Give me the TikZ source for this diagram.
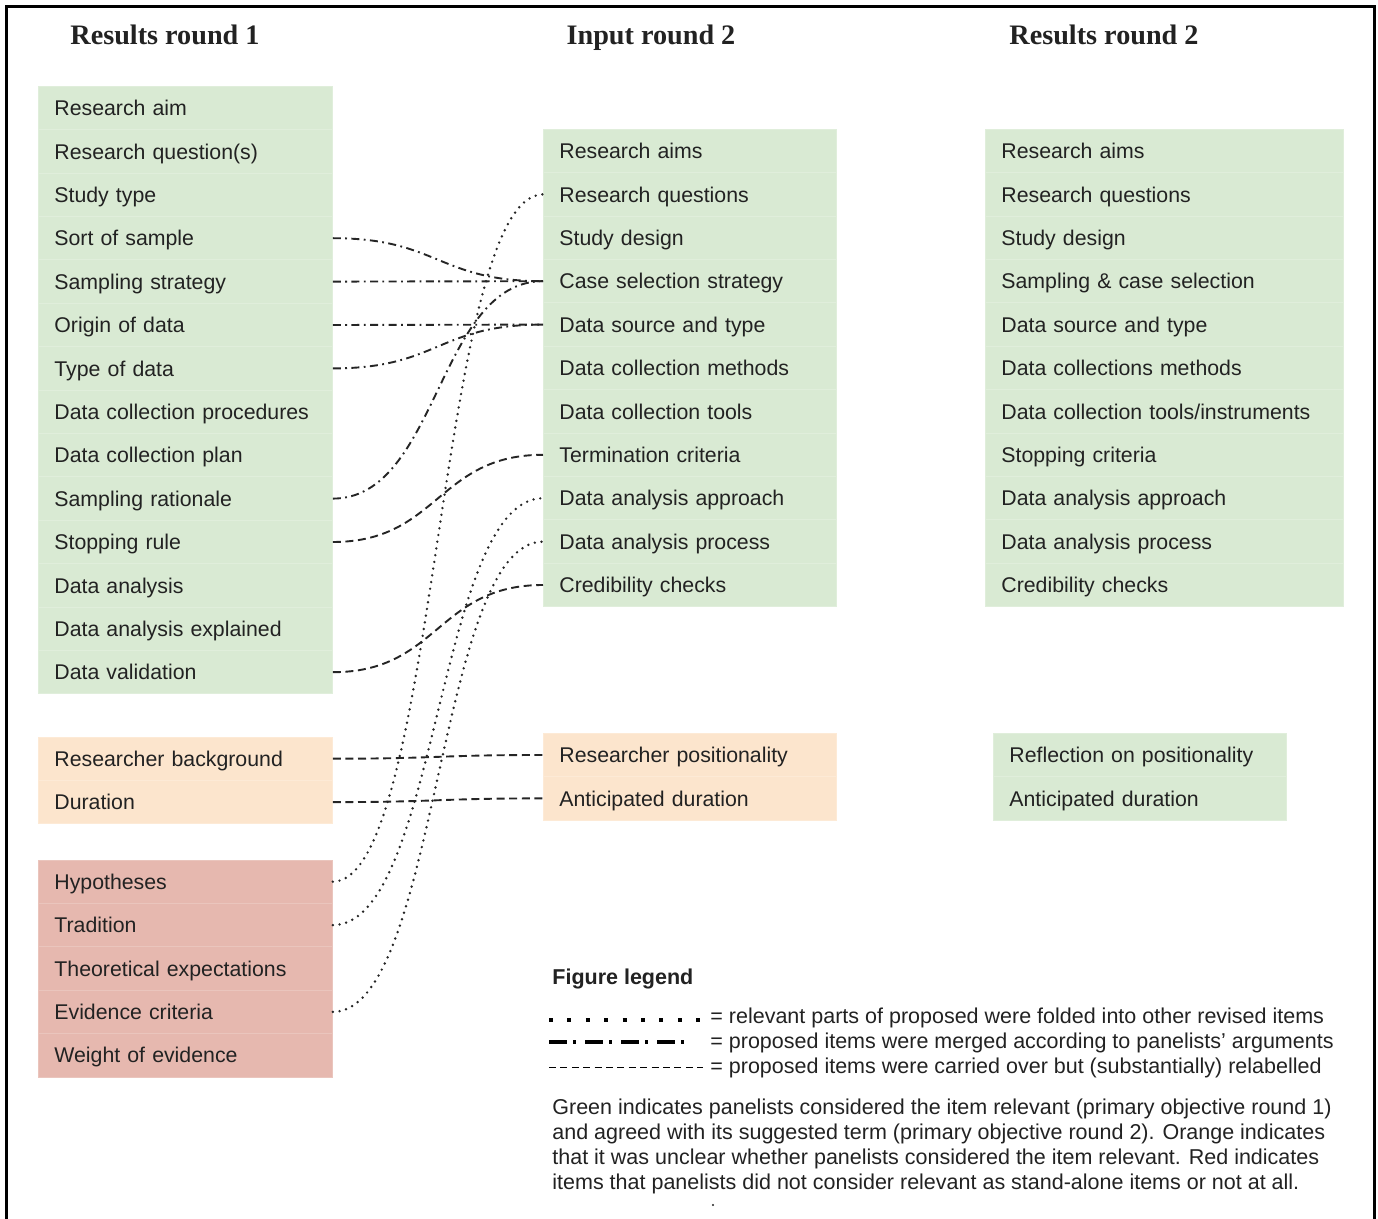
\documentclass[tikz,border=0pt]{standalone}
\usepackage{fontspec}
\setmainfont{Liberation Sans}
\newfontfamily\headfont{Liberation Serif}
\definecolor{boxgreen}{HTML}{D9EAD3}
\definecolor{boxorange}{HTML}{FCE5CD}
\definecolor{boxred}{HTML}{E6B8AF}
\definecolor{ink}{HTML}{222222}
\definecolor{linkink}{HTML}{252525}
\begin{document}
\begin{tikzpicture}[x=0.5pt,y=-0.5pt,
  row/.style={rectangle, anchor=west, fill=#1, draw=#1!82!white, line width=0.4pt,
    inner xsep=8pt, inner ysep=0pt, minimum height=21.7pt,
    text height=7.65pt, text depth=0pt, align=left,
    font=\fontsize{10.65pt}{13pt}\selectfont, text=ink},
  head/.style={inner sep=0pt, text height=9.3pt, text depth=0pt,
    font=\headfont\bfseries\fontsize{14.1pt}{16pt}\selectfont, text=ink},
  legtext/.style={anchor=west, inner sep=0pt, text height=7.7pt, text depth=0pt,
    font=\fontsize{10.75pt}{13pt}\selectfont, text=ink},
  ddot/.style={draw=linkink, line width=0.95pt, dash pattern=on 4pt off 2.2pt on 0.9pt off 2.2pt},
  dotline/.style={draw=linkink, line width=1.35pt, line cap=round, dash pattern=on 0pt off 3.4pt},
  dashline/.style={draw=linkink, line width=0.95pt, dash pattern=on 4pt off 2.3pt}
]
\useasboundingbox (0,0) rectangle (1378,1219);
\fill[white] (0,0) rectangle (1378,1219);
% frame
\draw[line width=1.5pt, black] (6,1219) -- (6,7) -- (1374,7) -- (1374,1219);

% headers
\node[head] (h1) at (165,35) {Results round 1};
\node[head] (h2) at (651,35) {Input round 2};
\node[head] (h3) at (1104,35) {Results round 2};

% left column, green
\foreach \t [count=\i] in {Research aim, Research question(s), Study type, Sort of sample,
  Sampling strategy, Origin of data, Type of data, Data collection procedures,
  Data collection plan, Sampling rationale, Stopping rule, Data analysis,
  Data analysis explained, Data validation}
  \node[row=boxgreen, text width=131pt] (L\i) at (38,108+43.4*\i-43.4) {\t};
% left column, orange
\foreach \t [count=\i] in {Researcher background, Duration}
  \node[row=boxorange, text width=131pt] (O\i) at (38,758.7+43.4*\i-43.4) {\t};
% left column, red
\foreach \t [count=\i] in {Hypotheses, Tradition, Theoretical expectations, Evidence criteria, Weight of evidence}
  \node[row=boxred, text width=131pt] (H\i) at (38,881.7+43.4*\i-43.4) {\t};

% middle column
\foreach \t [count=\i] in {Research aims, Research questions, Study design, Case selection strategy,
  Data source and type, Data collection methods, Data collection tools, Termination criteria,
  Data analysis approach, Data analysis process, Credibility checks}
  \node[row=boxgreen, text width=130.5pt] (M\i) at (543,151+43.4*\i-43.4) {\t};
\foreach \t [count=\i] in {Researcher positionality, Anticipated duration}
  \node[row=boxorange, text width=130.5pt] (MO\i) at (543,755+43.4*\i-43.4) {\t};

% right column
\foreach \t [count=\i] in {Research aims, Research questions, Study design, Sampling \& case selection,
  Data source and type, Data collections methods, Data collection tools/instruments, Stopping criteria,
  Data analysis approach, Data analysis process, Credibility checks}
  \node[row=boxgreen, text width=163pt] (R\i) at (985,151+43.4*\i-43.4) {\t};
\foreach \t [count=\i] in {Reflection on positionality, Anticipated duration}
  \node[row=boxgreen, text width=130.5pt] (RO\i) at (993,755+43.4*\i-43.4) {\t};

% connectors: merged (dash-dot)
\draw[ddot] (L4.east) .. controls +(105.5,0) and +(-105.5,0) .. (M4.west);
\draw[ddot] (L5.east) .. controls +(105.5,0) and +(-105.5,0) .. (M4.west);
\draw[ddot] (L6.east) .. controls +(105.5,0) and +(-105.5,0) .. (M5.west);
\draw[ddot] (L7.east) .. controls +(105.5,0) and +(-105.5,0) .. (M5.west);
\draw[ddot] (L10.east) .. controls +(105.5,0) and +(-105.5,0) .. (M4.west);
% connectors: folded (dotted)
\draw[dotline] (H1.east) .. controls +(105.5,0) and +(-105.5,0) .. (M2.west);
\draw[dotline] (H2.east) .. controls +(105.5,0) and +(-105.5,0) .. (M9.west);
\draw[dotline] (H4.east) .. controls +(105.5,0) and +(-105.5,0) .. (M10.west);
% connectors: relabelled (dashed)
\draw[dashline] (L11.east) .. controls +(105.5,0) and +(-105.5,0) .. (M8.west);
\draw[dashline] (L14.east) .. controls +(105.5,0) and +(-105.5,0) .. (M11.west);
\draw[dashline] (O1.east) .. controls +(105.5,0) and +(-105.5,0) .. (MO1.west);
\draw[dashline] (O2.east) .. controls +(105.5,0) and +(-105.5,0) .. (MO2.west);

% legend
\node[legtext, font=\bfseries\fontsize{10.75pt}{13pt}\selectfont] (lg) at (552,977) {Figure legend};
\draw[line width=2.4pt, black, dash pattern=on 2pt off 7.2pt] (549,1020) -- (700,1020);
\draw[line width=2.2pt, black, dash pattern=on 9pt off 3pt on 1.7pt off 4.3pt] (549,1042) -- (692,1042);
\draw[line width=0.5pt, black, dash pattern=on 3.5pt off 2.2pt] (549,1067) -- (703,1067);
\node[legtext] (lg1) at (710,1016) {= relevant parts of proposed were folded into other revised items};
\node[legtext] (lg2) at (710,1041) {= proposed items were merged according to panelists’ arguments};
\node[legtext] (lg3) at (710,1066) {= proposed items were carried over but (substantially) relabelled};

\node[legtext] (p1) at (552,1107) {Green indicates panelists considered the item relevant (primary objective round 1)};
\node[legtext] (p2) at (552,1132) {and agreed with its suggested term (primary objective round 2). Orange indicates};
\node[legtext] (p3) at (552,1157) {that it was unclear whether panelists considered the item relevant. Red indicates};
\node[legtext] (p4) at (552,1182) {items that panelists did not consider relevant as stand-alone items or not at all.};
\fill[ink] (713,1205) circle (0.6pt);
\end{tikzpicture}
\end{document}
